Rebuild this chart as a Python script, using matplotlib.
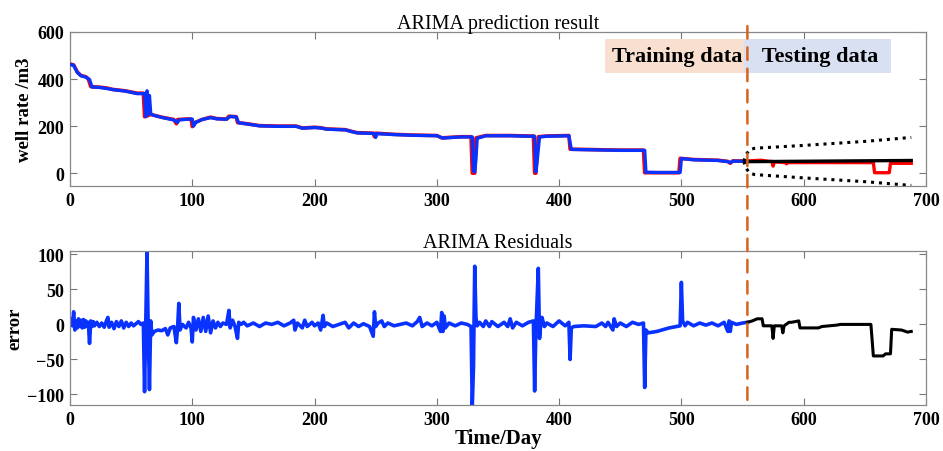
import matplotlib
matplotlib.use("Agg")
import matplotlib.pyplot as plt
from matplotlib.patches import ConnectionPatch

plt.rcParams['font.family'] = ['Liberation Serif', 'DejaVu Serif']

# ---- data ----
SPLIT = 554

act_days = [0, 3, 6, 9, 13, 15, 17, 25, 30, 35, 45, 55, 60, 61, 64, 66, 75, 85, 87, 88, 95, 99, 100,
            102, 108, 115, 120, 128, 130, 136, 137, 145, 155, 170, 185, 190, 200, 205, 210, 225, 230,
            235, 248, 249, 250, 265, 280, 300, 304, 310, 320, 328, 329, 331, 332, 340, 360, 375, 379,
            380, 381, 383, 390, 408, 409, 430, 450, 469, 470, 480, 498, 499, 510, 530, 538, 540, 542, 554]
act_vals = [465, 460, 430, 415, 410, 400, 368, 365, 362, 356, 350, 340, 340, 240, 245, 250, 238, 228, 210,
            228, 230, 230, 198, 215, 228, 238, 232, 230, 242, 240, 215, 210, 202, 200, 200, 192, 195, 193,
            188, 185, 178, 172, 170, 155, 170, 165, 162, 160, 150, 152, 155, 155, 0, 0, 150, 160, 160, 158,
            158, 0, 0, 155, 158, 160, 102, 100, 98, 98, 2, 2, 2, 63, 58, 55, 50, 42, 52, 52]

pred_days = [0, 3, 6, 9, 13, 16, 18, 25, 30, 35, 45, 55, 61, 62, 63, 64, 65, 66, 67, 75, 85, 88, 89, 95,
             100, 101, 103, 108, 115, 120, 128, 131, 136, 138, 145, 155, 170, 185, 190, 200, 205, 210,
             225, 230, 235, 248, 249, 250, 251, 265, 280, 300, 305, 310, 320, 329, 330, 331, 332, 333,
             340, 360, 375, 380, 381, 382, 384, 390, 408, 410, 430, 450, 470, 471, 480, 499, 500, 510,
             530, 538, 540, 542, 554]
pred_vals = [462, 458, 428, 414, 408, 398, 366, 364, 360, 355, 349, 338, 338, 240, 350, 250, 330, 255, 248,
             237, 226, 215, 226, 229, 230, 200, 216, 228, 236, 231, 229, 241, 239, 214, 209, 201, 199, 199,
             191, 194, 192, 187, 184, 177, 171, 169, 168, 152, 168, 164, 161, 159, 149, 151, 154, 154, 10,
             5, 60, 148, 159, 159, 157, 157, 5, 50, 154, 157, 159, 101, 99, 97, 97, 4, 3, 3, 62, 57, 54, 49,
             45, 51, 51]

test_days = [554, 565, 572, 574, 575, 576, 585, 586, 587, 600, 620, 640, 657, 658, 670, 671, 688]
test_vals = [52, 55, 50, 50, 30, 48, 45, 40, 45, 45, 45, 45, 45, 2, 2, 42, 42]

fc_days = [554, 688]
fc_vals = [49, 54]

ci_days = [551, 553, 556, 560, 600, 650, 688]
ci_upper = [50, 80, 100, 106, 118, 135, 152]
ci_lower = [50, 20, 0, -6, -20, -36, -52]

res_days = [0, 1, 2, 3, 4, 5, 6, 7, 8, 9, 10, 11, 12, 13, 14, 15, 16, 17, 18, 19, 20, 22, 24, 26, 28, 30,
            31, 32, 34, 36, 38, 40, 42, 44, 46, 48, 50, 52, 54, 56, 58, 60, 61, 62, 63, 64, 65, 66, 67,
            69, 72, 75, 78, 80, 82, 85, 87, 88, 89, 90, 92, 95, 97, 99, 100, 101, 103, 105, 107, 109,
            111, 113, 115, 117, 119, 121, 123, 125, 128, 130, 131, 133, 135, 137, 138, 140, 142, 145,
            150, 155, 160, 165, 170, 175, 180, 183, 184, 186, 190, 192, 194, 198, 200, 203, 205, 207,
            208, 210, 215, 220, 225, 228, 232, 236, 240, 245, 248, 249, 250, 252, 255, 257, 260, 265,
            270, 275, 280, 284, 286, 288, 292, 296, 300, 303, 304, 305, 306, 307, 310, 315, 320, 325,
            328, 329, 330, 331, 332, 333, 335, 338, 340, 343, 345, 350, 355, 358, 360, 362, 365, 370,
            375, 379, 380, 381, 383, 384, 385, 386, 388, 390, 395, 400, 405, 408, 409, 410, 412, 420,
            430, 435, 438, 440, 444, 445, 447, 450, 455, 460, 465, 469, 470, 471, 473, 480, 490, 499,
            500, 501, 503, 505, 510, 515, 520, 525, 530, 535, 538, 539, 540, 541, 545, 550, 554]
res_vals = [5, 8, -2, 18, -8, 5, -5, 8, -3, 6, -5, 7, -4, 5, -2, 3, -27, 5, -3, 4, -2, 3, -3, 2, -4, 6,
            10, -4, 3, -6, 4, -3, 5, -5, 3, -3, 2, -2, 1, 4, 0, 2, -96, 0, 103, -10, -93, 5, -15,
            -10, -8, -9, -6, -15, -5, -3, -26, -5, 30, -8, 0, -5, 3, -5, -25, 10, -8, 8, -10, 10,
            -10, 12, -12, 5, -5, 3, -3, 2, 0, 20, -5, 6, -3, -20, 3, 0, 3, -2,
            2, -3, 2, 0, 3, -2, 2, 6, -8, 2, -5, 6, -3, 3, -2, 2, -8, 13,
            -3, 2, -3, 0, 3, -5, 2, -3, 1, -3, -17, 18, -3, 2, 5, -3, 2, -2,
            0, 2, -2, 4, 10, -3, 2, -2, 3, -10, 17, -10, 12, -5, 2, -2, 2, 0,
            -3, -118, -60, 83, 10, -2, 3, -3, 5, -3, 4, -3, 3, -3, 8, -5, 3, -2,
            3, 5, -95, -10, 80, -20, 0, 10, -3, 2, -3, 5, -2, 3, -50, -5, -3, -2,
            -3, 2, -3, 3, -8, 8, -3, 2, -3, 3, 0, 2, -90, -8, -12, -10, -5, -2,
            60, 5, -2, 3, -2, 2, -1, 2, -2, 3, -10, 5, -10, 3, 0, 2, 3]

tres_days = [554, 558, 562, 566, 567, 574, 575, 576, 582, 583, 584, 588, 590, 596, 597, 612, 615, 627,
             630, 655, 657, 665, 667, 671, 672, 680, 685, 688]
tres_vals = [3, 5, 8, 8, -2, -2, -20, -2, -2, -12, -2, 3, 3, 5, -5, -5, -3, -1,
             0, 0, -45, -45, -42, -42, -7, -8, -11, -10]

BLUE = "#0a32ff"
ORANGE = "#d9621c"

fig = plt.figure(figsize=(9.43, 4.52), dpi=100)
ax1 = fig.add_axes([0.0742, 0.586, 0.9077, 0.341])
ax2 = fig.add_axes([0.0742, 0.1018, 0.9077, 0.341])

ax1.plot(act_days, act_vals, color="red", lw=2.6, zorder=2)
ax1.plot(pred_days, pred_vals, color=BLUE, lw=2.4, zorder=3)
ax1.plot(test_days, test_vals, color="red", lw=2.4, zorder=2)
ax1.plot(fc_days, fc_vals, color="black", lw=2.4, zorder=3)
ax1.plot(ci_days, ci_upper, color="black", lw=2.2, ls=(0, (1, 1.6)), zorder=3)
ax1.plot(ci_days, ci_lower, color="black", lw=2.2, ls=(0, (1, 1.6)), zorder=3)
ax1.set_xlim(0, 700)
ax1.set_ylim(-55, 600)
ax1.set_yticks([0, 200, 400, 600])
ax1.set_xticks(range(0, 701, 100))
ax1.set_ylabel("well rate /m3", fontsize=13.5, fontweight="bold", labelpad=3)
ax1.set_title("ARIMA prediction result", fontsize=14.5, pad=3)

ax1.text(SPLIT - 4, 498, "Training data", ha="right", va="center", fontsize=16, fontweight="bold",
         bbox=dict(boxstyle="square,pad=0.3", fc="#f8dfcf", ec="none"), zorder=4)
ax1.text(SPLIT + 3, 498, "  Testing data ", ha="left", va="center", fontsize=16, fontweight="bold",
         bbox=dict(boxstyle="square,pad=0.3", fc="#d9e0f1", ec="none"), zorder=4)

ax2.plot(res_days, res_vals, color=BLUE, lw=2.6)
ax2.plot(tres_days, tres_vals, color="black", lw=2.2)
ax2.set_xlim(0, 700)
ax2.set_ylim(-115, 105)
ax2.set_yticks([-100, -50, 0, 50, 100])
ax2.set_xticks(range(0, 701, 100))
ax2.set_ylabel("error", fontsize=13.5, fontweight="bold", labelpad=3)
ax2.set_xlabel("Time/Day", fontsize=15, fontweight="bold", labelpad=0)
ax2.set_title("ARIMA Residuals", fontsize=14.5, pad=3)

for ax in (ax1, ax2):
    ax.tick_params(direction="in", top=True, right=True, length=5, width=0.8,
                   color="#777777", labelsize=13, pad=4)
    for lab in ax.get_xticklabels() + ax.get_yticklabels():
        lab.set_fontweight("bold")
    for s in ax.spines.values():
        s.set_color("#888888")
        s.set_linewidth(0.9)

# split line crossing both panels
con = ConnectionPatch(xyA=(SPLIT, 625), coordsA=ax1.transData,
                      xyB=(SPLIT, -115), coordsB=ax2.transData,
                      color=ORANGE, lw=1.8, ls=(0, (5, 3.5)), zorder=5)
con.set_clip_on(False)
fig.add_artist(con)

fig.savefig("out.png", dpi=100)
